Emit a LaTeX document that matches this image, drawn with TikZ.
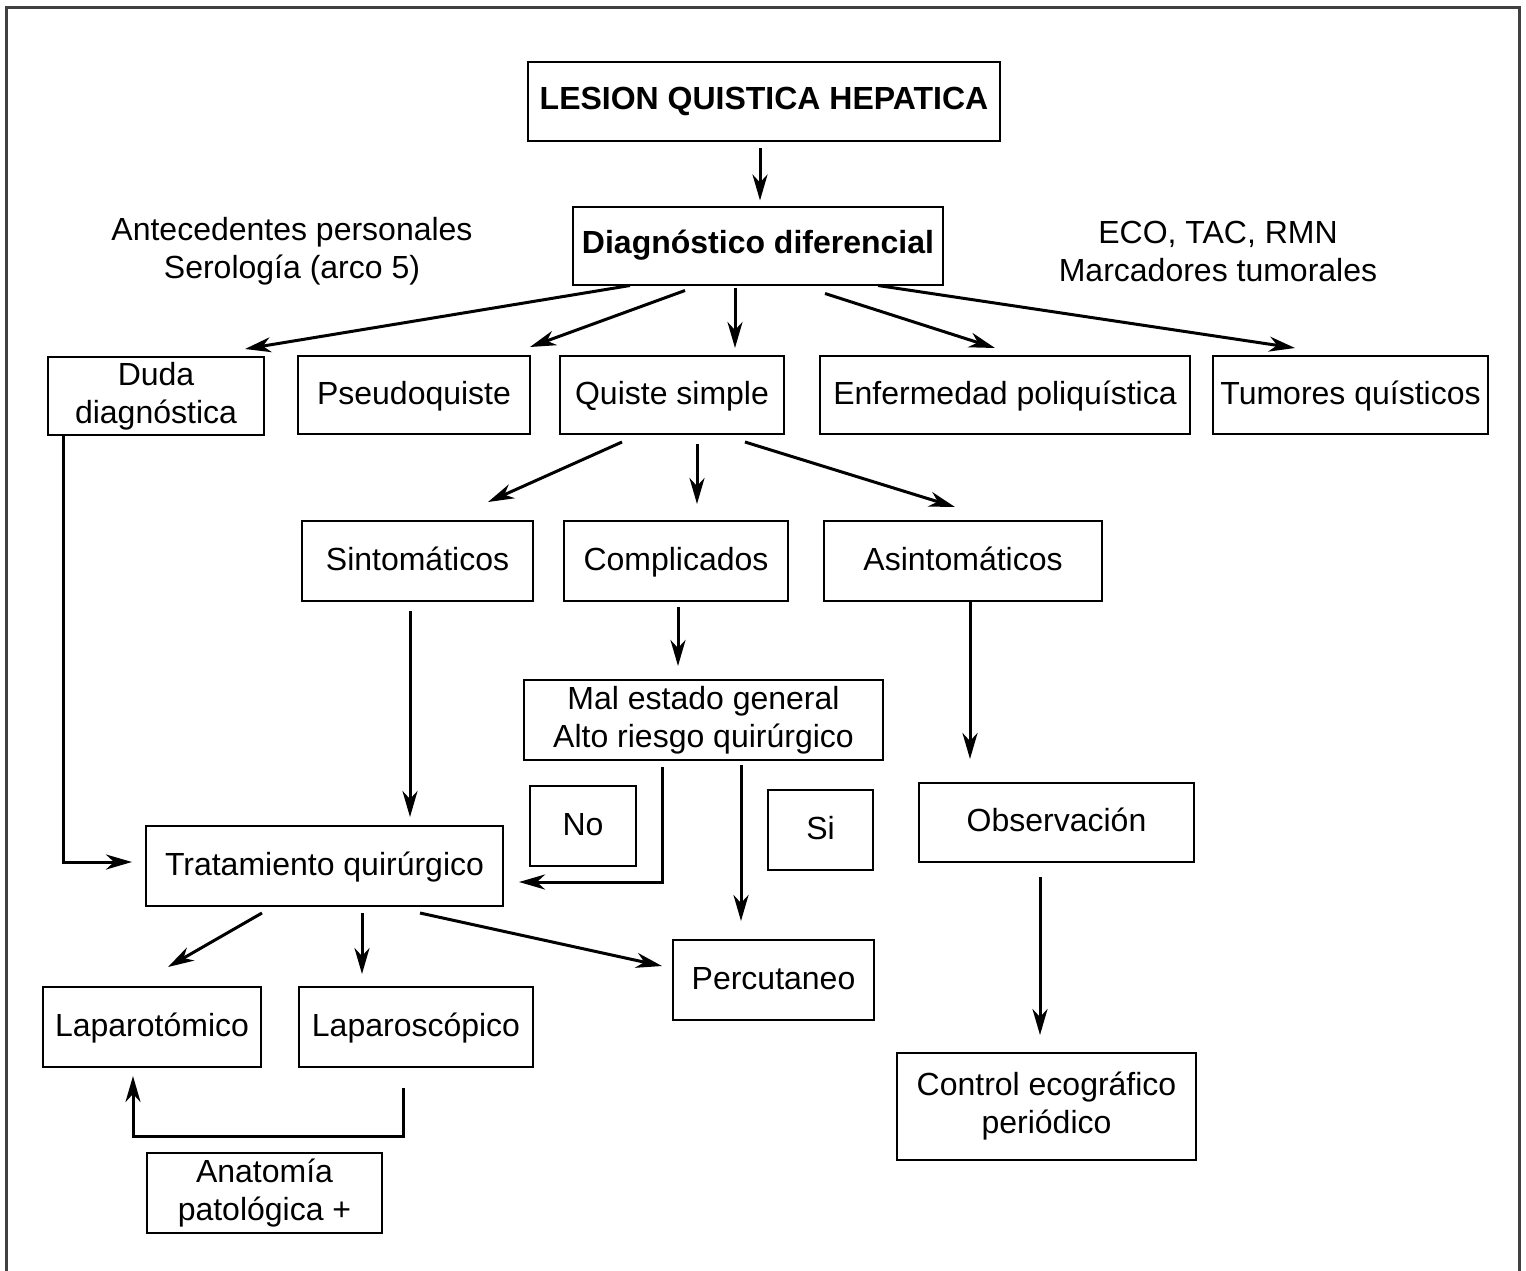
\documentclass[tikz,border=0pt]{standalone}
\usepackage{fontspec}
\setmainfont{Liberation Sans}
\usetikzlibrary{arrows.meta}
\begin{document}
\begin{tikzpicture}[x=1pt,y=-1pt,
  box/.style={draw=black,line width=2pt,inner sep=0pt,align=center,font=\fontsize{32}{38}\selectfont},
  one/.style={text height=24pt,text depth=6pt},
  plain/.style={inner sep=0pt,align=center,font=\fontsize{32}{38}\selectfont},
  arr/.style={line width=3pt,-{Stealth[length=26pt,width=15pt,inset=8pt]}}]
\useasboundingbox (0,0) rectangle (1526,1270);
\clip (0,0) rectangle (1526,1270);
\fill[white] (0,0) rectangle (1526,1270);
\draw[black!75,line width=3pt] (6,1300) -- (6,7) -- (1519,7) -- (1519,1300);

\node[box,minimum width=472,minimum height=79,font=\fontsize{32}{38}\selectfont\bfseries] (lesion) at (764,101.5) {LESION QUISTICA HEPATICA};
\node[box,minimum width=370,minimum height=78,font=\fontsize{32}{38}\selectfont\bfseries] (diag) at (758,245.5) {Diagnóstico diferencial};
\node[plain] (ante) at (292,251) {Antecedentes personales\\Serología (arco 5)};
\node[plain] (eco) at (1218,251) {ECO, TAC, RMN\\Marcadores tumorales};

\node[box,minimum width=216,minimum height=78] (duda) at (156,396) {Duda\\diagnóstica};
\node[box,one,minimum width=232,minimum height=78] (pseudo) at (414,395) {Pseudoquiste};
\node[box,one,minimum width=224,minimum height=78] (quiste) at (672,395) {Quiste simple};
\node[box,one,minimum width=370,minimum height=78] (enf) at (1005,395) {Enfermedad poliquística};
\node[box,one,minimum width=275,minimum height=78] (tum) at (1350.5,395) {Tumores quísticos};

\node[box,one,minimum width=231,minimum height=80] (sint) at (417.5,561) {Sintomáticos};
\node[box,one,minimum width=224,minimum height=80] (comp) at (676,561) {Complicados};
\node[box,one,minimum width=278,minimum height=80] (asint) at (963,561) {Asintomáticos};

\node[box,minimum width=359,minimum height=80] (mal) at (703.5,720) {Mal estado general\\Alto riesgo quirúrgico};
\node[box,one,minimum width=106,minimum height=80] (no) at (583,826) {No};
\node[box,one,minimum width=105,minimum height=80] (si) at (820.5,830) {Si};
\node[box,one,minimum width=275,minimum height=79] (obs) at (1056.5,822.5) {Observación};
\node[box,one,minimum width=357,minimum height=80] (trat) at (324.5,866) {Tratamiento quirúrgico};
\node[box,one,minimum width=218,minimum height=80] (laparot) at (152,1027) {Laparotómico};
\node[box,one,minimum width=234,minimum height=80] (laparos) at (416,1027) {Laparoscópico};
\node[box,one,minimum width=201,minimum height=80] (perc) at (773.5,980) {Percutaneo};
\node[box,minimum width=299,minimum height=107] (control) at (1046.5,1106.5) {Control ecográfico\\periódico};
\node[box,minimum width=235,minimum height=80] (anat) at (264.5,1193) {Anatomía\\patológica +};

\draw[arr] ([shift={(-4,6)}]lesion.south) -- ([shift={(2,-5)}]diag.north);
\draw[arr] ([shift={(-128,0)}]diag.south) -- ([shift={(89,-7)}]duda.north);
\draw[arr] ([shift={(-73,5)}]diag.south) -- ([shift={(116,-8)}]pseudo.north);
\draw[arr] ([shift={(-23,2)}]diag.south) -- ([shift={(63,-7)}]quiste.north);
\draw[arr] ([shift={(67,8)}]diag.south) -- ([shift={(-10,-7)}]enf.north);
\draw[arr] ([shift={(120,0)}]diag.south) -- ([shift={(-55.5,-7)}]tum.north);

\draw[arr] ([shift={(-50,7)}]quiste.south) -- ([shift={(70.5,-18)}]sint.north);
\draw[arr] ([shift={(25,9)}]quiste.south) -- ([shift={(21,-16)}]comp.north);
\draw[arr] ([shift={(73,7)}]quiste.south) -- ([shift={(-8,-13)}]asint.north);

\draw[arr] ([shift={(-7.5,9)}]sint.south) -- ([shift={(85.5,-8)}]trat.north);
\draw[arr] ([shift={(2,5)}]comp.south) -- ([shift={(-25.5,-13)}]mal.north);
\draw[arr] ([shift={(7,0)}]asint.south) -- ([shift={(-86.5,-23)}]obs.north);
\draw[arr] ([shift={(-16.5,14)}]obs.south) -- ([shift={(-6.5,-17)}]control.north);

\draw[arr] ([shift={(-41.5,6)}]mal.south) |- ([shift={(15,16)}]trat.east);
\draw[arr] ([shift={(37.5,4)}]mal.south) -- ([shift={(-32.5,-18)}]perc.north);
\draw[arr] ([shift={(-93,0)}]duda.south) |- ([shift={(-13,-4)}]trat.west);

\draw[arr] ([shift={(-62.5,6)}]trat.south) -- ([shift={(16,-19)}]laparot.north);
\draw[arr] ([shift={(37.5,6)}]trat.south) -- ([shift={(-54,-12)}]laparos.north);
\draw[arr] ([shift={(95.5,6)}]trat.south) -- ([shift={(-10,-14)}]perc.west);
\draw[arr] ([shift={(-13,20)}]laparos.south) -- ++(0,48) -| ([shift={(-19,8)}]laparot.south);
\end{tikzpicture}
\end{document}
